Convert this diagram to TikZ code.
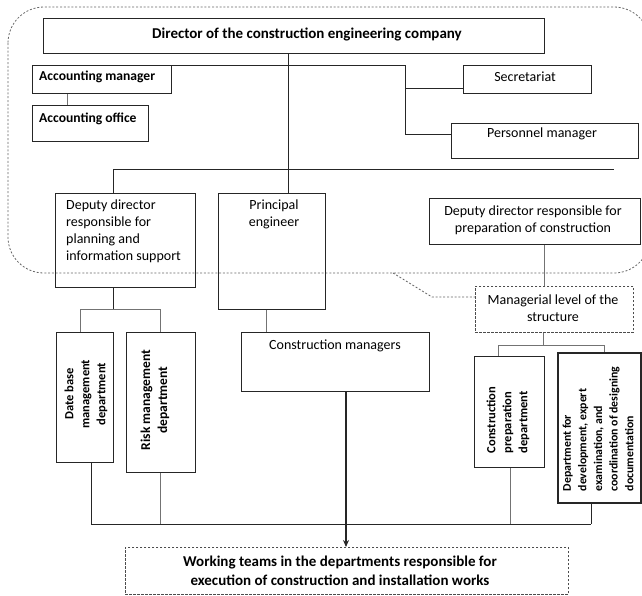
\documentclass[tikz,border=0pt]{standalone}
\usepackage{fontspec}
\setmainfont{Carlito}
\usetikzlibrary{arrows.meta}

\begin{document}
\begin{tikzpicture}[x=1pt,y=-1pt,
  box/.style={draw=black!85, line width=0.8pt, inner sep=0pt, anchor=north west},
  dbox/.style={box, draw=black!70, dash pattern=on 2.5pt off 1.5pt},
  heavybox/.style={box, line width=1.5pt},
  txt/.style={inner sep=0pt, font=\fontsize{14}{17}\selectfont},
  btxt/.style={inner sep=0pt, font=\fontsize{13.6}{17}\selectfont\bfseries},
  titletxt/.style={inner sep=0pt, font=\fontsize{15}{19}\selectfont\bfseries},
  rtxt/.style={inner sep=0pt, rotate=90, font=\fontsize{12.5}{16}\selectfont\bfseries},
  link/.style={draw=black!85, line width=0.8pt},
  faint/.style={draw=black!55, line width=0.7pt},
  outline/.style={draw=black!60, line width=0.8pt, dash pattern=on 2pt off 1.8pt}
]
\useasboundingbox (0,0) rectangle (642,595);

% managerial level outline
\draw[outline, rounded corners=36pt] (8,7) rectangle (650,273);

% boxes
\node[box, minimum width=501pt, minimum height=35pt] (dir) at (43,18) {};
\node[titletxt] (dirT) at (307,34.5) {Director of the construction engineering company};

\node[box, minimum width=139pt, minimum height=28pt] (accm) at (32,65) {};
\node[btxt, anchor=west] (accmT) at (39,77) {Accounting manager};

\node[box, minimum width=116pt, minimum height=36pt] (acco) at (32,105) {};
\node[btxt, anchor=west] (accoT) at (39,119) {Accounting office};

\node[box, minimum width=128pt, minimum height=28pt] (sec) at (463,65) {};
\node[txt] (secT) at (525,77) {Secretariat};

\node[box, minimum width=187pt, minimum height=35pt] (pers) at (451,123) {};
\node[txt] (persT) at (542,134) {Personnel manager};

\node[box, minimum width=140pt, minimum height=94pt] (depL) at (55,193) {};
\node[txt, anchor=north west, align=left] (depLT) at (66,199.5)
  {Deputy director\\responsible for\\planning and\\information support};

\node[box, minimum width=107pt, minimum height=116pt] (prin) at (218,193) {};
\node[txt, anchor=north, align=center] (prinT) at (274,199.5) {Principal\\engineer};

\node[box, minimum width=211pt, minimum height=46pt] (depR) at (429,198) {};
\node[txt, align=center] (depRT) at (533,220)
  {Deputy director responsible for\\preparation of construction};

\node[dbox, minimum width=158pt, minimum height=46pt] (mgr) at (475,286) {};
\node[txt, align=center] (mgrT) at (553,308.5) {Managerial level of the\\structure};

\node[box, minimum width=57pt, minimum height=130pt] (db) at (56,332) {};
\node[rtxt, align=center] (dbT) at (86,394) {Date base\\management\\department};

\node[box, minimum width=69pt, minimum height=140pt] (risk) at (126,332) {};
\node[rtxt, align=center, font=\fontsize{13.5}{17}\selectfont\bfseries] (riskT) at (155,400)
  {Risk management\\department};

\node[box, minimum width=188pt, minimum height=59pt] (cm) at (241,332) {};
\node[txt] (cmT) at (335,346) {Construction managers};

\node[box, minimum width=70pt, minimum height=111pt] (cprep) at (474,356) {};
\node[rtxt, align=left] (cprepT) at (508,420) {Construction\\preparation\\department};

\node[heavybox, minimum width=83pt, minimum height=150pt] (ddev) at (557,352) {};
\node[rtxt, align=left, font=\fontsize{11.8}{15.6}\selectfont\bfseries] (ddevT) at (598,429)
  {Department for\\development, expert\\examination, and\\coordination of designing\\documentation};

\node[dbox, minimum width=443pt, minimum height=47pt] (work) at (125,547) {};
\node[titletxt, align=center] (workT) at (340,571)
  {Working teams in the departments responsible for\\execution of construction and installation works};

% junction points
\coordinate (spine) at (288.5,0);
\coordinate (topBus) at (405,65);
\coordinate (secJ) at (405,88);
\coordinate (persJ) at (405,134);
\coordinate (accX) at (67,0);
\coordinate (busL) at (113,169);
\coordinate (busR) at (614,169);
\coordinate (depLJ) at (113,309);
\coordinate (dbX) at (80,309);
\coordinate (riskX) at (160,309);
\coordinate (prinX) at (266,0);
\coordinate (depRX) at (544,0);
\coordinate (mgrJ) at (543,345);
\coordinate (cprepX) at (498,345);
\coordinate (ddevX) at (604,345);
\coordinate (botL) at (91,524);
\coordinate (botR) at (591,524);
\coordinate (riskB) at (160.5,524);
\coordinate (cprepB) at (510,524);
\coordinate (arrX) at (346,0);

% director and staff units
\draw[link] (dir.south -| spine) -- (prin.north -| spine);
\draw[link] (accm.north east) -- (topBus) -- (persJ) -- (persJ -| pers.west);
\draw[link] (secJ) -- (secJ -| sec.west);
\draw[faint] (accm.south -| accX) -- (acco.north -| accX);

% deputy level bus
\draw[link] (busL) -- (busR);
\draw[link] (busL) -- (depL.north -| busL);

% planning branch
\draw[link] (depL.south -| depLJ) -- (depLJ);
\draw[faint] (dbX) -- (riskX);
\draw[faint] (dbX) -- (db.north -| dbX);
\draw[faint] (riskX) -- (risk.north -| riskX);

% principal engineer branch
\draw[faint] (prin.south -| prinX) -- (cm.north -| prinX);

% preparation branch
\draw[faint] (depR.south -| depRX) -- (mgr.north -| depRX);
\draw[faint] (mgr.south -| mgrJ) -- (mgrJ);
\draw[faint] (cprepX) -- (ddevX);
\draw[faint] (cprepX) -- (cprep.north -| cprepX);
\draw[faint] (ddevX) -- (ddev.north -| ddevX);

% collecting line to the working teams
\draw[link] (botL) -- (botR);
\draw[link] (db.south -| botL) -- (botL);
\draw[faint] (risk.south -| riskB) -- (riskB);
\draw[faint] (cprep.south -| cprepB) -- (cprepB);
\draw[link] (ddev.south -| botR) -- (botR);
\draw[link, line width=1.2pt, -{Stealth[length=7pt,width=6pt]}] (cm.south -| arrX) -- (work.north -| arrX);

% outline link to the managerial level label
\draw[outline] (393,273) -- (432,297) -- (mgr.west |- 0,297);
\end{tikzpicture}
\end{document}
